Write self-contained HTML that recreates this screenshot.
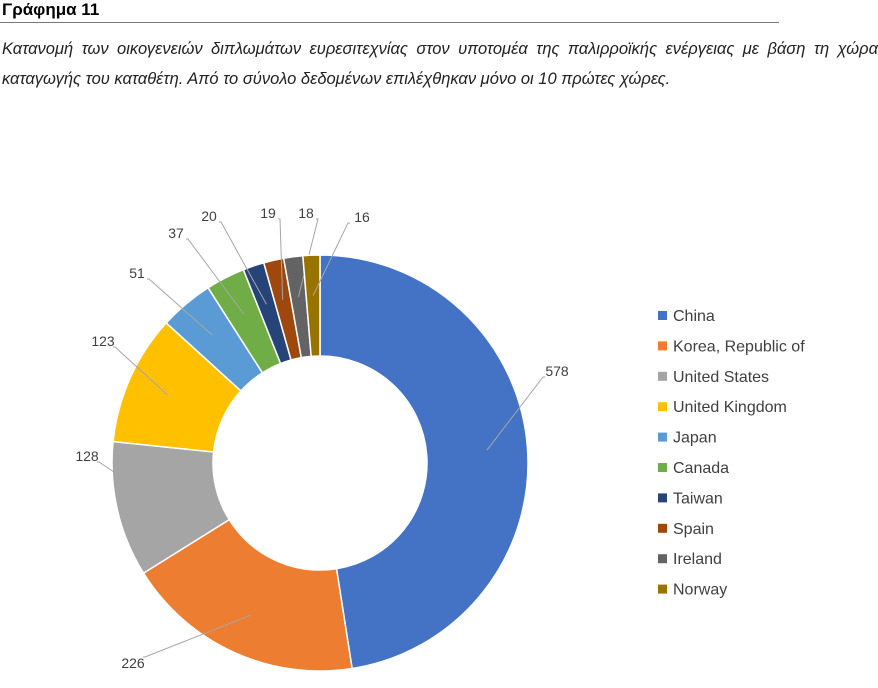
<!DOCTYPE html>
<html><head><meta charset="utf-8">
<style>
body{margin:0;background:#fff;width:878px;height:688px;overflow:hidden;font-family:"Liberation Sans",sans-serif;}
.title{position:absolute;left:2px;top:0;font-weight:bold;font-size:17px;color:#000;}
.rule{position:absolute;left:0;top:22px;width:779px;height:1px;background:#777;}
.cap{position:absolute;left:2px;top:34px;width:876px;font-style:italic;font-size:16.5px;line-height:30px;color:#222;text-align:justify;}
</style></head><body>
<div class="title">Γράφημα 11</div>
<div class="rule"></div>
<div class="cap">Κατανομή των οικογενειών διπλωμάτων ευρεσιτεχνίας στον υποτομέα της παλιρροϊκής ενέργειας με βάση τη χώρα καταγωγής του καταθέτη. Από το σύνολο δεδομένων επιλέχθηκαν μόνο οι 10 πρώτες χώρες.</div>
<svg id="chart" width="878" height="688" style="position:absolute;left:0;top:0"></svg>
<script>
const categories=["China","Korea, Republic of","United States","United Kingdom","Japan","Canada","Taiwan","Spain","Ireland","Norway"];
const values=[578,226,128,123,51,37,20,19,18,16];
const colors=["#4472C4","#ED7D31","#A5A5A5","#FFC000","#5B9BD5","#70AD47","#264478","#9E480E","#636363","#997300"];
const labelPos=[[557,371],[133,663],[87,456],[103,341],[137,273],[176,233],[209,216],[268,213],[306,213],[362,217]];
const NS="http://www.w3.org/2000/svg";
const svg=document.getElementById('chart');
const cx=320,cy=463,R=208,r=107;
const total=values.reduce((a,b)=>a+b,0);
function pt(a,rad){return [cx+rad*Math.sin(a),cy-rad*Math.cos(a)];}
let acc=0;
values.forEach((v,i)=>{
  const a0=acc/total*2*Math.PI; acc+=v; const a1=acc/total*2*Math.PI;
  const lg=(a1-a0)>Math.PI?1:0;
  const p0=pt(a0,R),p1=pt(a1,R),q1=pt(a1,r),q0=pt(a0,r);
  const p=document.createElementNS(NS,'path');
  p.setAttribute('d',`M${p0[0]},${p0[1]}A${R},${R} 0 ${lg} 1 ${p1[0]},${p1[1]}L${q1[0]},${q1[1]}A${r},${r} 0 ${lg} 0 ${q0[0]},${q0[1]}Z`);
  p.setAttribute('fill',colors[i]);p.setAttribute('stroke','#fff');p.setAttribute('stroke-width','1.5');
  
  
  svg.appendChild(p);
  const am=(a0+a1)/2, m=pt(am,(R+r)/2+10);
  const lp=labelPos[i];
  const ax=lp[0]+(lp[0]<cx?12:-14), ay=lp[1]+(lp[1]<cy?6:-6);
  const ln=document.createElementNS(NS,'polyline');
  ln.setAttribute('points',`${m[0]},${m[1]} ${ax},${ay} ${ax+(lp[0]<cx?-2:2)},${ay}`);
  ln.setAttribute('fill','none');ln.setAttribute('stroke','#a6a6a6');ln.setAttribute('stroke-width','1');
  
  
  svg.appendChild(ln);
  const t=document.createElementNS(NS,'text');
  t.setAttribute('x',lp[0]);t.setAttribute('y',lp[1]+5);t.setAttribute('text-anchor','middle');
  t.setAttribute('font-size','14');t.setAttribute('fill','#404040');t.setAttribute('font-family','Liberation Sans, sans-serif');
  t.textContent=v;
  
  
  svg.appendChild(t);
});
categories.forEach((c,i)=>{
  const y=315+i*30.4;
  const s=document.createElementNS(NS,'rect');
  s.setAttribute('x',658);s.setAttribute('y',y-4);s.setAttribute('width',9);s.setAttribute('height',9);s.setAttribute('fill',colors[i]);
  
  
  svg.appendChild(s);
  const t=document.createElementNS(NS,'text');
  t.setAttribute('x',673);t.setAttribute('y',y+6);t.setAttribute('font-size','16');t.setAttribute('fill','#404040');t.setAttribute('font-family','Liberation Sans, sans-serif');
  t.textContent=c;
  
  
  svg.appendChild(t);
});
</script>
</body></html>
